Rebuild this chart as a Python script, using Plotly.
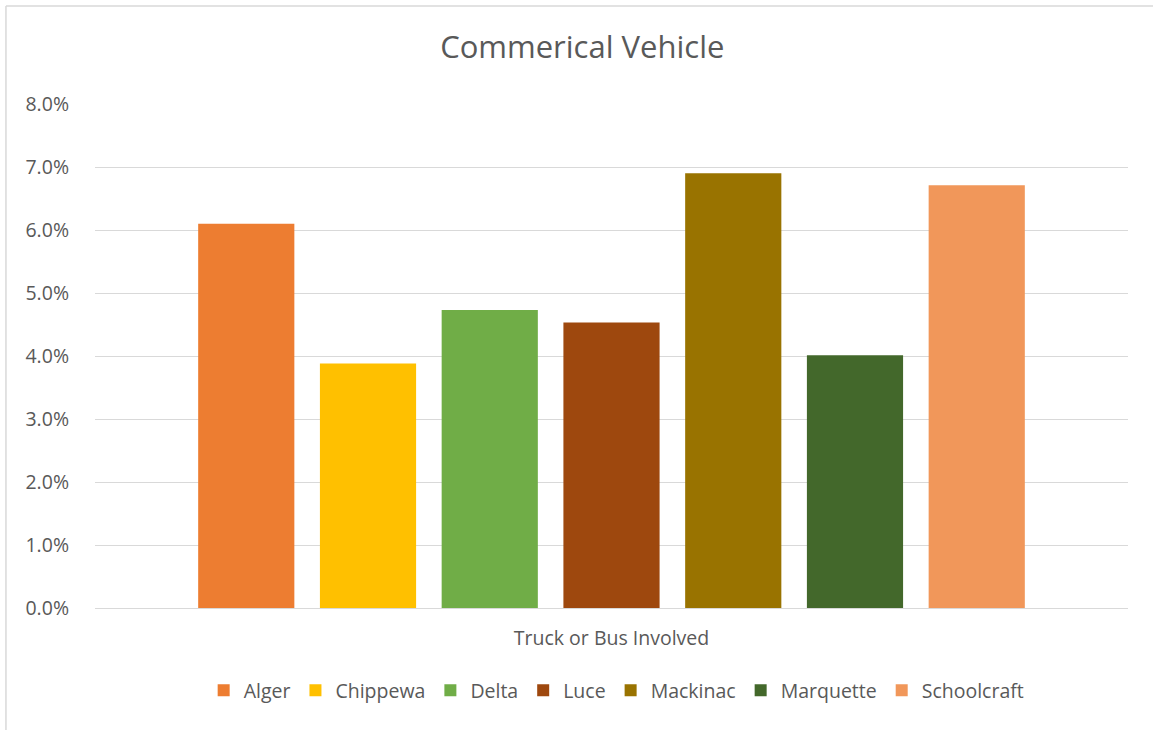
import plotly.graph_objects as go

# Share of crashes involving a truck or bus, by county
category = ["Truck or Bus Involved"]
counties = ["Alger", "Chippewa", "Delta", "Luce", "Mackinac", "Marquette", "Schoolcraft"]
shares = [0.0610, 0.0388, 0.0473, 0.0453, 0.0690, 0.0401, 0.0671]
colors = ["#ED7D31", "#FFC000", "#70AD47", "#9E480E", "#997300", "#43682B", "#F1975A"]
y_ticks = [0.0, 0.01, 0.02, 0.03, 0.04, 0.05, 0.06, 0.07, 0.08]

TEXT = "#595959"
GRID = "#D9D9D9"
FONT = "Open Sans, Lato, sans-serif"
LABEL_SIZE = 19.5

fig = go.Figure()
for name, val, col in zip(counties, shares, colors):
    fig.add_trace(go.Bar(
        x=category, y=[val], name=name,
        marker=dict(color=col, line=dict(width=0)),
    ))

fig.update_layout(
    width=1153, height=730,
    margin=dict(l=95, r=25, t=104, b=122),
    paper_bgcolor="white", plot_bgcolor="white",
    barmode="group", bargap=0.175, bargroupgap=0.21,
    font=dict(family=FONT, color=TEXT, size=LABEL_SIZE),
    title=dict(text="Commerical Vehicle", x=0.505, xanchor="center",
               y=0.935, yanchor="middle",
               font=dict(family=FONT, size=31, color=TEXT)),
    showlegend=True,
    legend=dict(orientation="h", x=0.505, xanchor="center", y=-0.125, yanchor="top",
                font=dict(family=FONT, size=LABEL_SIZE, color=TEXT),
                itemwidth=30, tracegroupgap=0, traceorder="normal"),
    yaxis=dict(range=[0, 0.08], tickvals=y_ticks, tickformat=".1%",
               showgrid=True, gridcolor=GRID, gridwidth=1,
               zeroline=True, zerolinecolor=GRID, zerolinewidth=1,
               showline=False, ticks="", ticklabelstandoff=25,
               tickfont=dict(family=FONT, size=LABEL_SIZE, color=TEXT)),
    xaxis=dict(showgrid=False, showline=False, ticks="",
               tickfont=dict(family=FONT, size=LABEL_SIZE, color=TEXT),
               ticklabelstandoff=16),
    shapes=[
        dict(type="line", xref="paper", yref="paper",
             x0=-0.0862, x1=1.03, y0=1.1944, y1=1.1944,
             line=dict(color=GRID, width=1.5)),
        dict(type="line", xref="paper", yref="paper",
             x0=-0.0862, x1=-0.0862, y0=1.1944, y1=-0.25,
             line=dict(color=GRID, width=1.5)),
    ],
)

fig.write_html("out.html")
